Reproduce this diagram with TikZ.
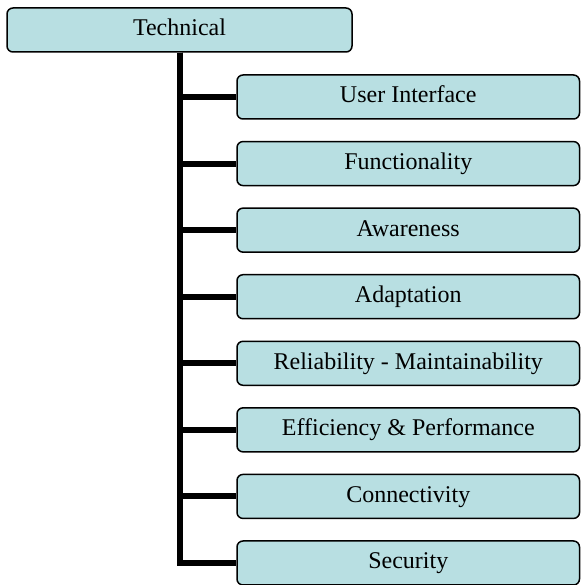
\documentclass[tikz,border=0pt]{standalone}
\usepackage{fontspec}
\setmainfont{Liberation Serif}
\definecolor{boxfill}{RGB}{184,223,226}
\tikzset{
    item/.style={draw, fill=boxfill, rounded corners=6pt, line width=1.5pt,
        minimum width=342.5pt, minimum height=44pt, inner sep=0pt,
        text height=17pt, text depth=5pt,
        font=\fontsize{24}{28}\selectfont},
    branch/.style={line width=6pt}
}
\begin{document}
\begin{tikzpicture}[x=1pt, y=-1pt]
        \useasboundingbox (0,0) rectangle (581,585);
        \node[item, minimum width=345pt] (tech) at (179.5,30) {Technical};
        \foreach \lbl [count=\i] in {User Interface, Functionality, Awareness, Adaptation,
            Reliability - Maintainability, Efficiency \& Performance, Connectivity, Security} {
            \node[item] (c\i) at (408.25,{97+66.57*(\i-1)}) {\lbl};
            \draw[branch] (tech.south) |- (c\i.west);
        }
    \end{tikzpicture}
\end{document}
